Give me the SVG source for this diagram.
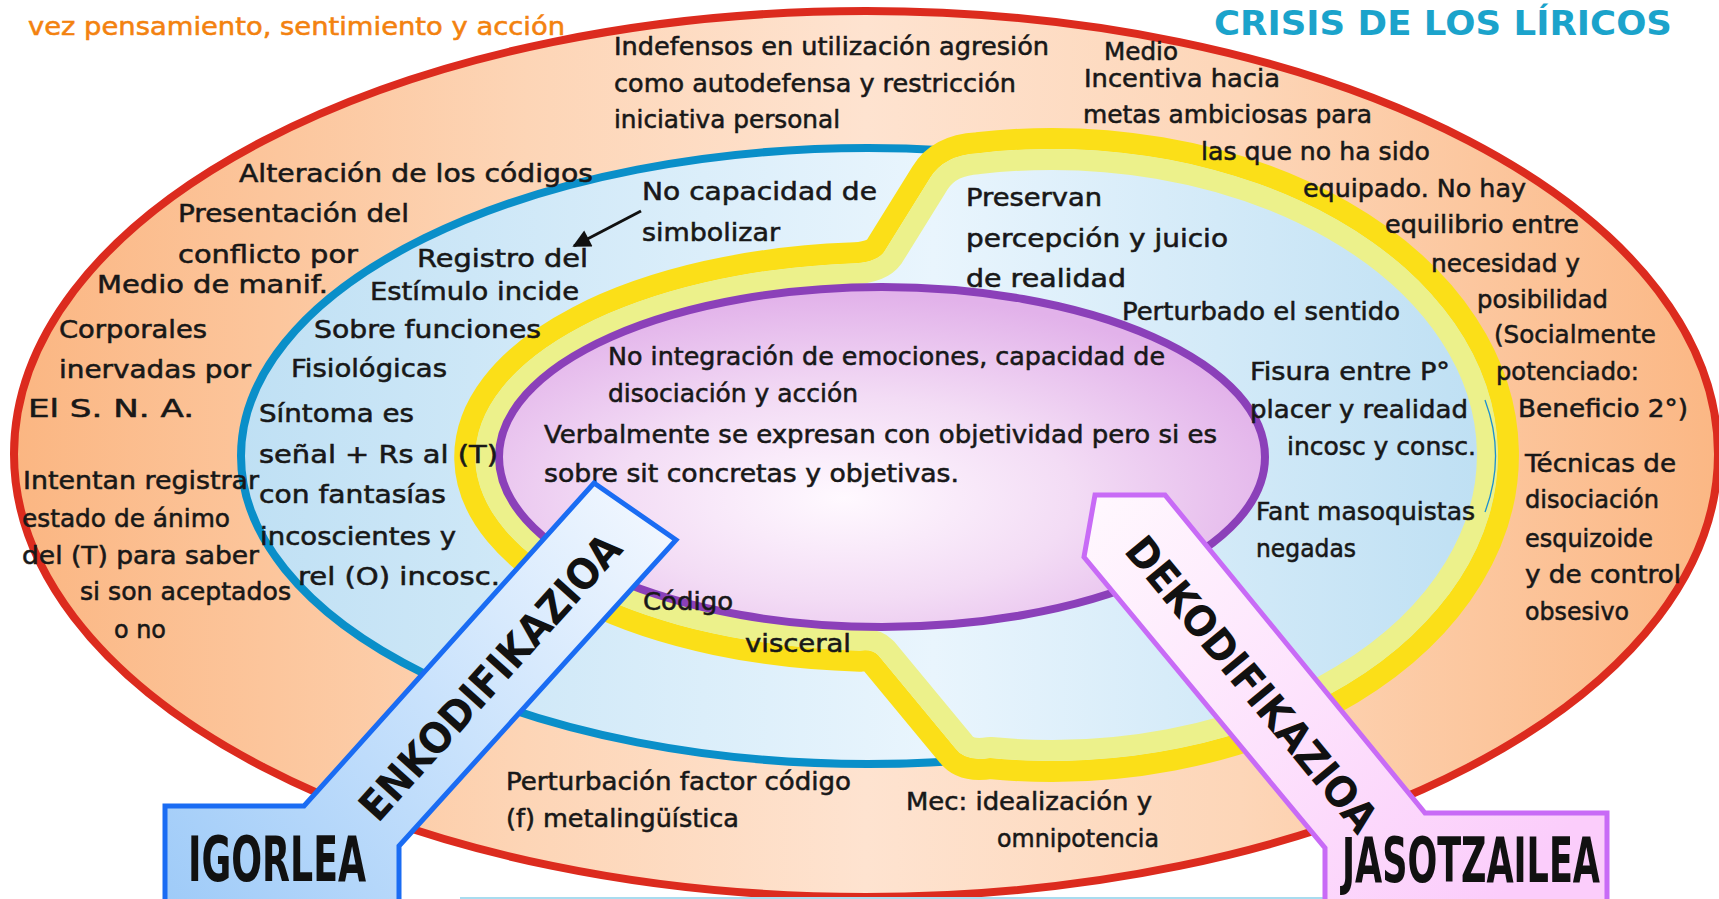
<svg xmlns="http://www.w3.org/2000/svg" width="1719" height="899" viewBox="0 0 1719 899">
<defs>
<style>
.t{font-family:'DejaVu Sans','Liberation Sans',sans-serif;font-size:25px;fill:#181818;stroke:#181818;stroke-width:0.55px}
.or{fill:#f3820f;stroke:#f3820f}
.ttl{font-family:'DejaVu Sans','Liberation Sans',sans-serif;font-size:34px;font-weight:bold;fill:#1ba3cb}
.bl{font-family:'DejaVu Sans','Liberation Sans',sans-serif;font-size:42px;font-weight:bold;fill:#111;text-anchor:middle}
.bx{font-family:'Liberation Sans Narrow','DejaVu Sans Condensed','Liberation Sans',sans-serif;font-size:39px;font-weight:bold;fill:#111}
</style>
<linearGradient id="gOr" gradientUnits="userSpaceOnUse" x1="14" y1="0" x2="1718" y2="0">
<stop offset="0" stop-color="#fbb682"/><stop offset="0.3" stop-color="#fdd5b6"/><stop offset="0.5" stop-color="#fee3d0"/><stop offset="0.72" stop-color="#fdd6b8"/><stop offset="1" stop-color="#fbb784"/>
</linearGradient>
<linearGradient id="gBl" gradientUnits="userSpaceOnUse" x1="241" y1="0" x2="1500" y2="0">
<stop offset="0" stop-color="#bfe0f4"/><stop offset="0.55" stop-color="#e9f5fd"/><stop offset="1" stop-color="#bddff3"/>
</linearGradient>
<radialGradient id="gPu" cx="0.45" cy="0.62" r="0.6">
<stop offset="0" stop-color="#fff9ff"/><stop offset="0.5" stop-color="#f3dcf5"/><stop offset="1" stop-color="#e2b2ea"/>
</radialGradient>
<linearGradient id="gEn" gradientUnits="userSpaceOnUse" x1="165" y1="899" x2="676" y2="483">
<stop offset="0" stop-color="#9fcbf8"/><stop offset="0.5" stop-color="#c9e2fc"/><stop offset="1" stop-color="#f5f9ff"/>
</linearGradient>
<linearGradient id="gDe" gradientUnits="userSpaceOnUse" x1="1095" y1="495" x2="1500" y2="899">
<stop offset="0" stop-color="#fff8fe"/><stop offset="1" stop-color="#fbcdfb"/>
</linearGradient>
<path id="yb" d="M 850,263.6 Q 876,263 884,252 L 930,178 Q 944,155 978,153.2 A 446 306 0 1 1 990,758 Q 965,762 955,748 L 878,655 Q 872,649 860,650.7 A 407 194 0 0 1 850,263.6 Z"/>
<clipPath id="ybclip"><use href="#yb"/></clipPath>
<marker id="ah" viewBox="0 0 10 10" refX="9" refY="5" markerWidth="7" markerHeight="6" orient="auto">
<path d="M0,0 L10,5 L0,10 z" fill="#111"/>
</marker>
</defs>

<rect width="1719" height="899" fill="#ffffff"/>

<g id="outer-ring">
<ellipse cx="866" cy="454" rx="852" ry="443" fill="url(#gOr)" stroke="#dc2b1e" stroke-width="8"/>
</g>
<g id="blue-ring">
<ellipse cx="868" cy="456" rx="627" ry="308" fill="url(#gBl)" stroke="#0a8fc9" stroke-width="8"/>
</g>
<g id="yellow-band">
<use href="#yb" fill="none" stroke="#fbdf18" stroke-width="42" stroke-linejoin="round"/>
<use href="#yb" fill="url(#gBl)" stroke="#ecf18b" stroke-width="42" stroke-linejoin="round" clip-path="url(#ybclip)"/>
<path d="M 1485,400 A 627 308 0 0 1 1485,512" fill="none" stroke="#1b8fd0" stroke-width="1.3"/>
</g>
<g id="core">
<ellipse cx="882" cy="457" rx="383" ry="170" fill="url(#gPu)" stroke="#8b40b9" stroke-width="8"/>
</g>
<line x1="460" y1="898" x2="1327" y2="898" stroke="#a9dcef" stroke-width="2"/>

<g id="title">
<text class="ttl" x="1214" y="35" textLength="458" lengthAdjust="spacingAndGlyphs">CRISIS DE LOS LÍRICOS</text>
<text class="t or" x="28" y="35" textLength="537" lengthAdjust="spacingAndGlyphs">vez pensamiento, sentimiento y acción</text>
</g>

<g id="top-middle">
<text class="t" x="614" y="55" textLength="435" lengthAdjust="spacingAndGlyphs">Indefensos en utilización agresión</text>
<text class="t" x="614" y="92" textLength="402" lengthAdjust="spacingAndGlyphs">como autodefensa y restricción</text>
<text class="t" x="614" y="128" textLength="226" lengthAdjust="spacingAndGlyphs">iniciativa personal</text>
</g>

<g id="right-outer">
<text class="t" x="1104" y="60" textLength="74" lengthAdjust="spacingAndGlyphs">Medio</text>
<text class="t" x="1084" y="87" textLength="196" lengthAdjust="spacingAndGlyphs">Incentiva hacia</text>
<text class="t" x="1083" y="123" textLength="289" lengthAdjust="spacingAndGlyphs">metas ambiciosas para</text>
<text class="t" x="1201" y="160" textLength="229" lengthAdjust="spacingAndGlyphs">las que no ha sido</text>
<text class="t" x="1303" y="197" textLength="223" lengthAdjust="spacingAndGlyphs">equipado. No hay</text>
<text class="t" x="1385" y="233" textLength="194" lengthAdjust="spacingAndGlyphs">equilibrio entre</text>
<text class="t" x="1431" y="272" textLength="149" lengthAdjust="spacingAndGlyphs">necesidad y</text>
<text class="t" x="1477" y="308" textLength="131" lengthAdjust="spacingAndGlyphs">posibilidad</text>
<text class="t" x="1494" y="343" textLength="162" lengthAdjust="spacingAndGlyphs">(Socialmente</text>
<text class="t" x="1496" y="380" textLength="143" lengthAdjust="spacingAndGlyphs">potenciado:</text>
<text class="t" x="1518" y="417" textLength="170" lengthAdjust="spacingAndGlyphs">Beneficio 2°)</text>
<text class="t" x="1525" y="472" textLength="151" lengthAdjust="spacingAndGlyphs">Técnicas de</text>
<text class="t" x="1525" y="508" textLength="134" lengthAdjust="spacingAndGlyphs">disociación</text>
<text class="t" x="1525" y="547" textLength="128" lengthAdjust="spacingAndGlyphs">esquizoide</text>
<text class="t" x="1525" y="583" textLength="156" lengthAdjust="spacingAndGlyphs">y de control</text>
<text class="t" x="1525" y="620" textLength="104" lengthAdjust="spacingAndGlyphs">obsesivo</text>
</g>

<g id="left-outer">
<text class="t" x="239" y="182" textLength="354" lengthAdjust="spacingAndGlyphs">Alteración de los códigos</text>
<text class="t" x="178" y="222" textLength="231" lengthAdjust="spacingAndGlyphs">Presentación del</text>
<text class="t" x="178" y="263" textLength="180" lengthAdjust="spacingAndGlyphs">conflicto por</text>
<text class="t" x="97" y="293" textLength="231" lengthAdjust="spacingAndGlyphs">Medio de manif.</text>
<text class="t" x="59" y="338" textLength="148" lengthAdjust="spacingAndGlyphs">Corporales</text>
<text class="t" x="59" y="378" textLength="192" lengthAdjust="spacingAndGlyphs">inervadas por</text>
<text class="t" x="28" y="417" textLength="166" lengthAdjust="spacingAndGlyphs">El S. N. A.</text>
<text class="t" x="23" y="489" textLength="236" lengthAdjust="spacingAndGlyphs">Intentan registrar</text>
<text class="t" x="22" y="527" textLength="208" lengthAdjust="spacingAndGlyphs">estado de ánimo</text>
<text class="t" x="22" y="564" textLength="237" lengthAdjust="spacingAndGlyphs">del (T) para saber</text>
<text class="t" x="80" y="600" textLength="211" lengthAdjust="spacingAndGlyphs">si son aceptados</text>
<text class="t" x="114" y="638" textLength="52" lengthAdjust="spacingAndGlyphs">o no</text>
</g>

<g id="left-blue">
<text class="t" x="417" y="267" textLength="171" lengthAdjust="spacingAndGlyphs">Registro del</text>
<text class="t" x="370" y="300" textLength="209" lengthAdjust="spacingAndGlyphs">Estímulo incide</text>
<text class="t" x="314" y="338" textLength="227" lengthAdjust="spacingAndGlyphs">Sobre funciones</text>
<text class="t" x="291" y="377" textLength="156" lengthAdjust="spacingAndGlyphs">Fisiológicas</text>
<text class="t" x="259" y="422" textLength="155" lengthAdjust="spacingAndGlyphs">Síntoma es</text>
<text class="t" x="259" y="463" textLength="239" lengthAdjust="spacingAndGlyphs">señal + Rs al (T)</text>
<text class="t" x="259" y="503" textLength="187" lengthAdjust="spacingAndGlyphs">con fantasías</text>
<text class="t" x="260" y="545" textLength="196" lengthAdjust="spacingAndGlyphs">incoscientes y</text>
<text class="t" x="298" y="585" textLength="202" lengthAdjust="spacingAndGlyphs">rel (O) incosc.</text>
</g>

<g id="symbol">
<text class="t" x="642" y="200" textLength="235" lengthAdjust="spacingAndGlyphs">No capacidad de</text>
<text class="t" x="642" y="241" textLength="138" lengthAdjust="spacingAndGlyphs">simbolizar</text>
</g>

<g id="core-text">
<text class="t" x="608" y="365" textLength="557" lengthAdjust="spacingAndGlyphs">No integración de emociones, capacidad de</text>
<text class="t" x="608" y="402" textLength="250" lengthAdjust="spacingAndGlyphs">disociación y acción</text>
<text class="t" x="544" y="443" textLength="673" lengthAdjust="spacingAndGlyphs">Verbalmente se expresan con objetividad pero si es</text>
<text class="t" x="544" y="482" textLength="415" lengthAdjust="spacingAndGlyphs">sobre sit concretas y objetivas.</text>
</g>

<g id="right-blue">
<text class="t" x="966" y="206" textLength="136" lengthAdjust="spacingAndGlyphs">Preservan</text>
<text class="t" x="966" y="247" textLength="262" lengthAdjust="spacingAndGlyphs">percepción y juicio</text>
<text class="t" x="966" y="287" textLength="160" lengthAdjust="spacingAndGlyphs">de realidad</text>
<text class="t" x="1122" y="320" textLength="278" lengthAdjust="spacingAndGlyphs">Perturbado el sentido</text>
<text class="t" x="1250" y="380" textLength="200" lengthAdjust="spacingAndGlyphs">Fisura entre P°</text>
<text class="t" x="1250" y="418" textLength="218" lengthAdjust="spacingAndGlyphs">placer y realidad</text>
<text class="t" x="1287" y="455" textLength="189" lengthAdjust="spacingAndGlyphs">incosc y consc.</text>
<text class="t" x="1256" y="520" textLength="219" lengthAdjust="spacingAndGlyphs">Fant masoquistas</text>
<text class="t" x="1256" y="557" textLength="100" lengthAdjust="spacingAndGlyphs">negadas</text>
</g>

<g id="visceral">
<text class="t" x="643" y="610" textLength="90" lengthAdjust="spacingAndGlyphs">Código</text>
<text class="t" x="745" y="652" textLength="106" lengthAdjust="spacingAndGlyphs">visceral</text>
</g>

<g id="bottom">
<text class="t" x="506" y="790" textLength="345" lengthAdjust="spacingAndGlyphs">Perturbación factor código</text>
<text class="t" x="506" y="827" textLength="233" lengthAdjust="spacingAndGlyphs">(f) metalingüística</text>
<text class="t" x="906" y="810" textLength="246" lengthAdjust="spacingAndGlyphs">Mec: idealización y</text>
<text class="t" x="997" y="847" textLength="162" lengthAdjust="spacingAndGlyphs">omnipotencia</text>
</g>

<g id="igorlea">
<polygon points="165,806 304,806 594,483 676,540 399,846 399,905 165,905" fill="url(#gEn)" stroke="#1a6cf3" stroke-width="5" stroke-linejoin="miter"/>
<text class="bl" transform="translate(490,677) rotate(-48)" y="15" textLength="368" lengthAdjust="spacingAndGlyphs">ENKODIFIKAZIOA</text>
<text class="bx" transform="translate(188,881) scale(1,1.6)" x="0" y="0" textLength="178" lengthAdjust="spacingAndGlyphs">IGORLEA</text>
</g>

<g id="jasotzailea">
<polygon points="1095,495 1165,495 1425,813 1607,813 1607,905 1325,905 1325,848 1084,557" fill="url(#gDe)" stroke="#c86bf6" stroke-width="5" stroke-linejoin="miter"/>
<text class="bl" transform="translate(1252,684) rotate(50.5)" y="15" textLength="369" lengthAdjust="spacingAndGlyphs">DEKODIFIKAZIOA</text>
<text class="bx" transform="translate(1342,882) scale(1,1.6)" x="0" y="0" textLength="258" lengthAdjust="spacingAndGlyphs">JASOTZAILEA</text>
</g>

<g id="connectors">
<line x1="641" y1="211" x2="574" y2="246" stroke="#111" stroke-width="3" marker-end="url(#ah)"/>
</g>
</svg>
